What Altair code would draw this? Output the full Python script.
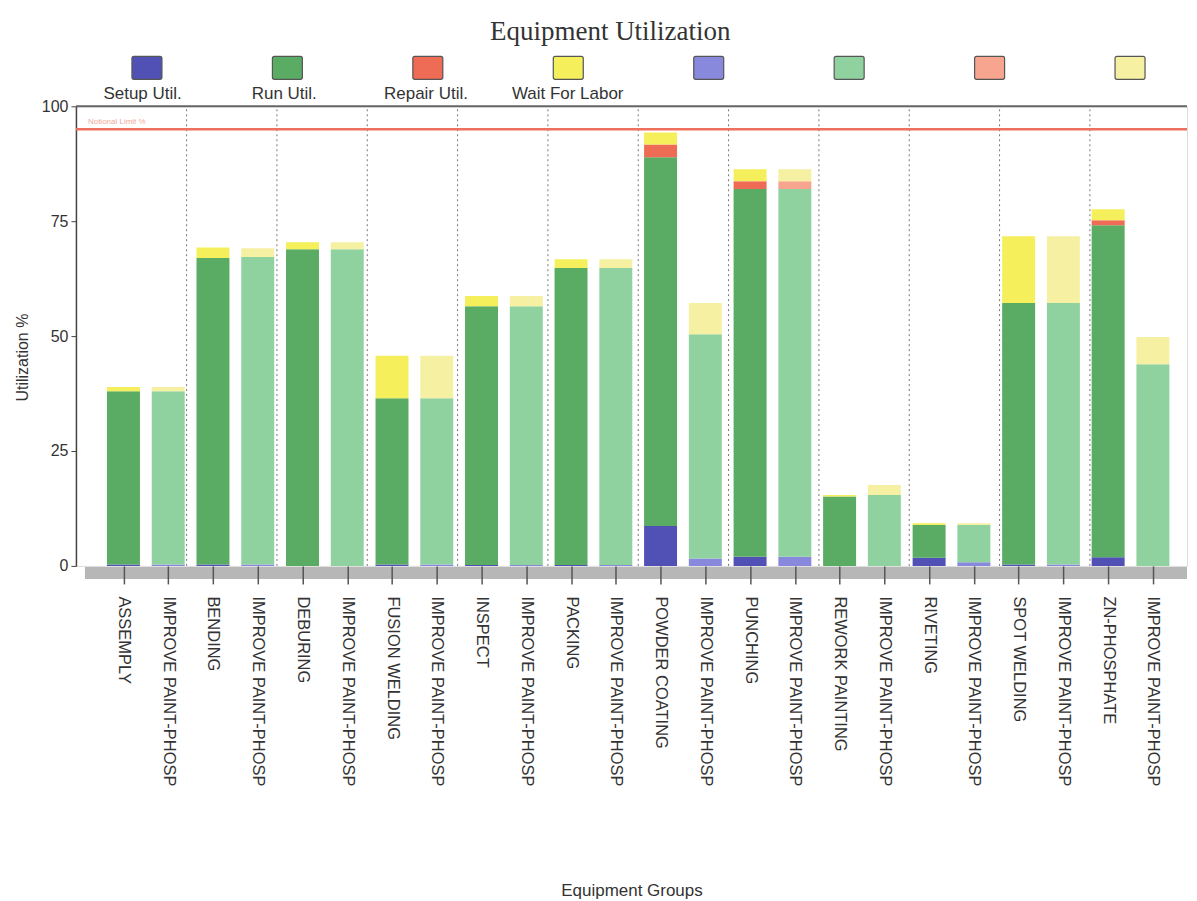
import altair as alt
import pandas as pd

# ---------------- data ----------------
groups = ["ASSEMPLY", "IMPROVE PAINT-PHOSP", "BENDING", "IMPROVE PAINT-PHOSP",
          "DEBURING", "IMPROVE PAINT-PHOSP", "FUSION WELDING", "IMPROVE PAINT-PHOSP",
          "INSPECT", "IMPROVE PAINT-PHOSP", "PACKING", "IMPROVE PAINT-PHOSP",
          "POWDER COATING", "IMPROVE PAINT-PHOSP", "PUNCHING", "IMPROVE PAINT-PHOSP",
          "REWORK PAINTING", "IMPROVE PAINT-PHOSP", "RIVETING", "IMPROVE PAINT-PHOSP",
          "SPOT WELDING", "IMPROVE PAINT-PHOSP", "ZN-PHOSPHATE", "IMPROVE PAINT-PHOSP"]
scenario = ["base", "improve"] * 12
setup_util = [0.3, 0.3, 0.3, 0.3, 0.0, 0.0, 0.3, 0.3, 0.2, 0.2, 0.2, 0.2,
              8.7, 1.6, 2.0, 2.0, 0.0, 0.0, 1.8, 0.8, 0.3, 0.3, 1.9, 0.0]
run_util = [37.7, 37.7, 66.7, 66.9, 68.9, 68.9, 36.2, 36.2, 56.3, 56.3, 64.6, 64.6,
            80.2, 48.8, 80.0, 80.0, 15.1, 15.4, 7.1, 8.1, 56.9, 56.9, 72.2, 43.9]
repair_util = [0.0, 0.0, 0.0, 0.0, 0.0, 0.0, 0.0, 0.0, 0.0, 0.0, 0.0, 0.0,
               2.8, 0.0, 1.7, 1.7, 0.0, 0.0, 0.0, 0.0, 0.0, 0.0, 1.1, 0.0]
wait_labor = [0.9, 0.9, 2.3, 1.9, 1.5, 1.5, 9.2, 9.2, 2.2, 2.2, 1.9, 1.9,
              2.6, 6.8, 2.6, 2.6, 0.3, 2.2, 0.4, 0.4, 14.5, 14.5, 2.4, 5.9]
limit_value = 95
limit_label = "Notional Limit %"

components = ["Setup Util.", "Run Util.", "Repair Util.", "Wait For Labor"]
dark_colors = ["#5151b5", "#5aab63", "#ee6b55", "#f4ef5a"]
light_colors = ["#8888dc", "#8fd2a0", "#f7a58f", "#f6f1a2"]

legend_labels = components + ["", "", "", ""]

# ---------------- build tables ----------------
rows = []
for i, g in enumerate(groups):
    vals = [setup_util[i], run_util[i], repair_util[i], wait_labor[i]]
    for k, (c, v) in enumerate(zip(components, vals)):
        rows.append({"idx": i, "group": g, "component": c, "ord": k,
                     "key": f"{scenario[i]}|{c}", "value": v})
df = pd.DataFrame(rows)

color_domain = [f"base|{c}" for c in components] + [f"improve|{c}" for c in components]
color_range = dark_colors + light_colors

legend_df = pd.DataFrame({"slot": list(range(8)), "key": color_domain, "label": legend_labels})
sep_df = pd.DataFrame({"pos": [i + 1.5 for i in range(0, 22, 2)]})
limit_df = pd.DataFrame({"y": [limit_value], "label": [limit_label]})

FONT = "Liberation Sans"
XDOM = [-0.95, 23.65]
label_array = "[" + ",".join("'" + g + "'" for g in groups) + "]"

xscale = alt.Scale(domain=XDOM, nice=False, zero=False)
yscale = alt.Scale(domain=[0, 100], nice=False)

W, H = 1112, 460

floor = alt.Chart(pd.DataFrame({"a": [0]})).mark_rect(color="#b7b7b7").encode(
    x=alt.value(9), x2=alt.value(W), y=alt.value(H + 1), y2=alt.value(H + 13)
)

seps = alt.Chart(sep_df).mark_rule(color="#777777", strokeDash=[2, 3], strokeWidth=1).encode(
    x=alt.X("pos:Q", scale=xscale, axis=None),
    y=alt.datum(0, scale=yscale),
    y2=alt.datum(100),
)

top_rule = alt.Chart(pd.DataFrame({"a": [0]})).mark_rule(color="#666666", strokeWidth=2).encode(
    x=alt.value(0), x2=alt.value(W), y=alt.datum(100, scale=yscale)
)

bars = alt.Chart(df).mark_bar(width=33).encode(
    x=alt.X("idx:Q", scale=xscale,
            axis=alt.Axis(values=list(range(24)), labelExpr=f"{label_array}[datum.value]",
                          labelAngle=90, labelAlign="left", labelBaseline="middle",
                          labelFont=FONT, labelFontSize=16.5, labelColor="#333333",
                          labelPadding=12, labelOverlap=False, labelFlush=False, labelBound=False,
                          labelLimit=400,
                          tickSize=18, tickColor="#555555", tickWidth=1.5,
                          domain=False, grid=False, zindex=1,
                          title="Equipment Groups", titleFont=FONT, titleFontSize=17,
                          titleFontWeight="normal", titleColor="#333333", titlePadding=117)),
    y=alt.Y("value:Q", stack="zero", scale=yscale,
            axis=alt.Axis(values=[0, 25, 50, 75, 100], grid=False, domainColor="#444444",
                          domainWidth=1.5, tickColor="#444444", tickSize=5,
                          labelFont=FONT, labelFontSize=16, labelColor="#333333", labelPadding=3,
                          title="Utilization %", titleFont=FONT, titleFontSize=16,
                          titleFontWeight="normal", titleColor="#333333", titlePadding=11,
                          titleY=251)),
    color=alt.Color("key:N", scale=alt.Scale(domain=color_domain, range=color_range), legend=None),
    order=alt.Order("ord:Q", sort="ascending"),
)

limit_rule = alt.Chart(limit_df).mark_rule(color="#ef6f5f", strokeWidth=2.5).encode(
    x=alt.value(0), x2=alt.value(W), y=alt.Y("y:Q", scale=yscale)
)
limit_text = alt.Chart(limit_df).mark_text(align="left", baseline="bottom", dx=12, dy=-3,
                                           fontSize=8, font=FONT, color="#f2a89a").encode(
    x=alt.value(0), y=alt.Y("y:Q", scale=yscale), text="label:N"
)

leg_scale = alt.Scale(domain=[-0.47, 7.37], nice=False, zero=False)
leg_x = alt.X("slot:Q", scale=leg_scale, axis=None)
leg_sw = alt.Chart(legend_df).mark_bar(width=30, stroke="#555555", strokeWidth=1.2,
                                       cornerRadius=2).encode(
    x=leg_x, y=alt.value(-50), y2=alt.value(-27),
    color=alt.Color("key:N", scale=alt.Scale(domain=color_domain, range=color_range), legend=None),
)
leg_tx = alt.Chart(legend_df).mark_text(baseline="middle", fontSize=17, font=FONT,
                                        color="#333333").encode(
    x=leg_x, y=alt.value(-12), text="label:N"
)

chart = alt.layer(floor, seps, top_rule, bars, limit_rule, limit_text, leg_sw, leg_tx).resolve_scale(
    x="independent"
).properties(
    width=W, height=H,
    title=alt.TitleParams("Equipment Utilization", font="Liberation Serif", fontSize=27,
                          fontWeight="normal", color="#333333", anchor="middle", offset=10,
                          frame="bounds", dx=9),
    padding={"left": 6, "top": 9, "right": 0, "bottom": 0},
).configure_view(stroke=None).configure(background="white")

chart.save("out.html", embed_options={"renderer": "svg", "actions": False})
